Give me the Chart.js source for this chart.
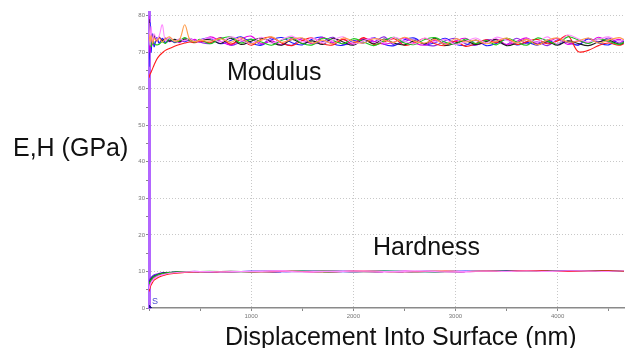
<!DOCTYPE html>
<html>
<head>
<meta charset="utf-8">
<script src="https://cdn.jsdelivr.net/npm/chart.js@4"></script>
<style>
  body { margin: 0; background: #fff; }
  #wrap { width: 629px; height: 348px; position: relative; }
</style>
</head>
<body>
<div id="wrap"><canvas id="chart"></canvas></div>
<script>
// displacement positions (nm) for modulus curves
const modX = [
  0, 10, 20, 35, 50, 75, 100, 130, 160, 200, 250, 300, 350, 400, 450, 500,
  600, 700, 800, 900, 1000, 1100, 1200, 1300, 1400, 1500,
  1600, 1700, 1800, 1900, 2000, 2100, 2200, 2300, 2400, 2500,
  2600, 2700, 2800, 2900, 3000, 3100, 3200, 3300, 3400, 3500,
  3600, 3700, 3800, 3900, 4000, 4100, 4200, 4300, 4400, 4500,
  4600, 4650
];

// modulus (GPa), one array per indent
const modRed = [
  63.0, 64.0, 64.5, 65.5, 66.5, 68.0, 69.0, 69.8, 70.5, 71.0, 71.6, 72.1, 72.5, 72.8, 72.6, 73.1,
  72.6, 73.9, 72.2, 73.4, 71.9, 73.6, 74.1, 72.5, 71.8, 73.2,
  73.9, 72.3, 72.0, 73.5, 72.4, 74.0, 72.1, 72.8, 73.7, 71.9,
  72.5, 73.8, 72.3, 71.8, 73.0, 71.6, 72.4, 73.4, 72.6, 73.6,
  72.1, 72.9, 73.5, 72.3, 73.1, 74.6, 70.2, 70.5, 71.8, 72.5,
  71.9, 72.3
];
const modBlue = [
  66.0, 78.0, 70.0, 75.0, 71.5, 74.0, 72.5, 73.8, 72.6, 73.2, 72.8, 73.6, 72.9, 73.3, 72.7, 73.4,
  73.8, 72.3, 73.2, 74.2, 72.5, 71.9, 73.4, 74.0, 72.6, 72.0,
  73.6, 74.1, 72.3, 71.9, 73.2, 72.5, 74.0, 72.2, 71.8, 73.4,
  73.9, 72.1, 72.6, 73.8, 72.2, 71.9, 73.3, 71.8, 72.4, 73.5,
  72.0, 72.7, 71.9, 73.3, 72.2, 73.0, 71.9, 73.6, 72.5, 72.0,
  73.4, 72.8
];
const modGreen = [
  72.0, 74.0, 71.5, 73.0, 72.3, 72.0, 72.2, 72.9, 72.4, 73.6, 72.8, 73.1, 74.0, 73.2, 72.8, 73.5,
  72.3, 73.7, 74.2, 72.5, 73.5, 72.8, 71.9, 73.3, 74.0, 72.4,
  72.0, 73.8, 73.2, 72.3, 73.7, 72.8, 71.8, 73.1, 74.1, 72.5,
  72.1, 73.5, 74.0, 72.7, 72.2, 73.6, 72.4, 73.2, 72.0, 73.8,
  72.8, 71.9, 73.9, 73.1, 72.3, 74.2, 73.4, 72.4, 73.6, 73.0,
  72.1, 72.8
];
const modMagenta = [
  80.0, 70.0, 76.0, 72.0, 74.5, 73.0, 74.2, 72.8, 73.9, 72.9, 73.4, 72.6, 73.7, 73.0, 73.5, 72.8,
  74.2, 73.0, 72.0, 73.6, 74.4, 72.3, 73.1, 72.0, 73.9, 73.3,
  72.4, 74.1, 72.7, 73.5, 72.1, 73.8, 73.0, 72.2, 72.8, 73.9,
  72.5, 71.9, 73.3, 72.3, 73.1, 73.8, 72.1, 72.8, 73.6, 72.1,
  73.0, 73.9, 72.3, 72.8, 73.8, 72.1, 73.1, 72.5, 74.1, 72.8,
  73.5, 72.6
];
const modBlack = [
  79.0, 74.0, 75.5, 73.8, 74.6, 73.2, 74.0, 73.1, 73.8, 73.0, 73.5, 72.9, 73.6, 73.3, 72.8, 73.4,
  73.4, 72.4, 73.8, 72.1, 73.0, 73.9, 72.7, 71.9, 73.5, 72.4,
  73.1, 72.1, 73.8, 72.8, 71.9, 73.4, 72.3, 73.6, 72.5, 72.0,
  73.1, 72.3, 73.8, 71.9, 72.5, 73.1, 72.1, 72.9, 73.4, 71.8,
  72.5, 73.5, 72.1, 72.9, 71.9, 73.1, 72.4, 71.8, 72.8, 73.3,
  72.2, 72.6
];
const modViolet = [
  68.0, 75.0, 71.0, 74.5, 72.0, 73.8, 72.4, 73.5, 72.7, 73.9, 72.6, 73.2, 72.9, 73.7, 73.1, 72.7,
  72.4, 74.0, 71.9, 72.8, 73.6, 72.1, 73.9, 72.6, 71.9, 73.8,
  72.3, 72.9, 74.1, 72.1, 72.6, 73.6, 72.8, 74.2, 72.0, 72.9,
  73.6, 72.1, 71.8, 73.1, 73.8, 72.3, 71.9, 73.4, 72.9, 72.1,
  73.8, 72.3, 72.9, 71.8, 73.4, 72.6, 72.0, 73.8, 72.8, 73.9,
  72.5, 73.1
];
const modPink = [
  78.0, 72.0, 77.0, 73.0, 75.0, 73.5, 74.5, 77.5, 73.2, 74.0, 73.0, 73.6, 73.1, 73.8, 72.9, 73.3,
  73.9, 72.8, 74.2, 73.3, 72.3, 74.1, 72.5, 73.5, 74.4, 72.8,
  73.9, 72.5, 73.3, 74.2, 72.3, 73.1, 73.9, 72.5, 74.1, 73.0,
  72.3, 73.9, 72.8, 73.5, 72.1, 72.9, 73.9, 72.5, 74.1, 73.3,
  72.5, 73.5, 72.8, 74.2, 72.3, 74.7, 73.7, 72.8, 73.5, 74.2,
  73.0, 73.6
];
const modOrange = [
  75.0, 73.0, 74.5, 72.5, 73.8, 73.0, 73.9, 72.8, 73.6, 74.2, 73.1, 73.5, 77.5, 73.4, 72.9, 73.3,
  73.0, 73.7, 72.7, 74.0, 72.3, 73.3, 74.2, 72.7, 73.5, 73.9,
  72.5, 73.3, 72.3, 73.9, 73.0, 72.5, 73.7, 73.3, 72.7, 74.1,
  73.0, 72.5, 73.5, 72.1, 73.7, 72.8, 73.3, 72.3, 73.0, 73.9,
  72.5, 73.5, 72.0, 73.3, 73.9, 72.8, 73.0, 73.9, 72.5, 73.3,
  74.0, 73.4
];

// displacement positions (nm) for hardness curves
const hardX = [
  0, 10, 20, 35, 50, 75, 100, 150, 200, 300, 400, 500,
  700, 900, 1100, 1300, 1500, 1700, 1900, 2100, 2300, 2500,
  2700, 2900, 3100, 3300, 3500, 3700, 3900, 4100, 4300, 4500,
  4650
];

// hardness (GPa)
const hardRed = [
  4.5, 5.5, 6.3, 7.0, 7.6, 8.1, 8.5, 9.0, 9.3, 9.6, 9.8, 9.9,
  9.9, 10.0, 9.9, 10.0, 10.0, 9.9, 10.0, 10.1, 10.0, 9.9,
  10.0, 10.1, 10.0, 10.1, 10.0, 10.2, 10.1, 10.0, 10.1, 10.2,
  10.1
];
const hardBlue = [
  7.0, 7.6, 8.0, 8.5, 8.8, 9.1, 9.3, 9.6, 9.7, 9.9, 9.9, 10.0,
  9.9, 10.0, 10.0, 9.9, 10.1, 10.0, 9.9, 10.0, 10.1, 10.0,
  9.9, 10.0, 10.1, 10.0, 10.1, 10.0, 10.1, 10.2, 10.1, 10.1,
  10.2
];
const hardMagenta = [
  6.0, 6.8, 7.3, 7.9, 8.3, 8.7, 9.0, 9.4, 9.6, 9.8, 9.9, 9.9,
  10.0, 9.9, 10.0, 10.1, 10.0, 9.9, 10.0, 10.0, 9.9, 10.1,
  10.0, 10.0, 9.9, 10.1, 10.0, 10.1, 10.0, 10.1, 10.2, 10.1,
  10.1
];
const hardViolet = [
  7.5, 8.0, 8.4, 8.8, 9.1, 9.3, 9.5, 9.7, 9.8, 9.9, 10.0, 10.0,
  9.9, 10.0, 10.1, 10.0, 9.9, 10.0, 10.1, 10.0, 10.0, 9.9,
  10.1, 10.0, 10.0, 10.1, 10.0, 10.0, 10.1, 10.1, 10.2, 10.1,
  10.2
];
const hardGreen = [
  6.5, 7.2, 7.7, 8.2, 8.6, 8.9, 9.2, 9.5, 9.7, 9.9, 9.9, 10.0,
  10.0, 9.9, 10.0, 10.0, 10.1, 9.9, 10.0, 10.0, 10.1, 10.0,
  9.9, 10.0, 10.0, 10.1, 10.0, 10.0, 10.1, 10.0, 10.1, 10.2,
  10.1
];
const hardBlack = [
  6.8, 7.4, 7.9, 8.4, 8.7, 9.0, 9.3, 9.6, 9.7, 9.9, 10.0, 9.9,
  10.0, 10.0, 9.9, 10.0, 10.0, 10.1, 10.0, 9.9, 10.0, 10.0,
  10.0, 9.9, 10.0, 10.0, 10.1, 10.0, 10.0, 10.1, 10.1, 10.1,
  10.1
];
const hardPink = [
  5.2, 6.2, 6.9, 7.5, 8.0, 8.5, 8.8, 9.2, 9.5, 9.8, 9.9, 10.0,
  9.9, 10.0, 10.0, 10.1, 9.9, 10.0, 10.0, 10.1, 10.0, 10.0,
  10.1, 9.9, 10.0, 10.1, 10.0, 10.1, 10.0, 10.2, 10.1, 10.0,
  10.2
];

// axis ticks (minor every 500 nm / 5 GPa, labelled every 1000 nm / 10 GPa)
const xTicks = [0, 500, 1000, 1500, 2000, 2500, 3000, 3500, 4000, 4500];
const yTicks = [0, 5, 10, 15, 20, 25, 30, 35, 40, 45, 50, 55, 60, 65, 70, 75, 80];
const xMax = 4650;
const yMax = 81;

const pts = (xs, ys) => xs.map((x, i) => ({ x: x, y: ys[i] }));

const line = (label, xs, ys, color) => ({
  label: label,
  data: pts(xs, ys),
  borderColor: color,
  backgroundColor: color,
  borderWidth: 1.1,
  pointRadius: 0,
  tension: 0.35,
  fill: false,
});

const datasets = [
  line("M orange", modX, modOrange, "#ff9c4a"),
  line("M pink", modX, modPink, "#ff8cff"),
  line("M green", modX, modGreen, "#19c719"),
  line("M black", modX, modBlack, "#202020"),
  line("M red", modX, modRed, "#ff1a1a"),
  line("M magenta", modX, modMagenta, "#e600e6"),
  line("M blue", modX, modBlue, "#1a1aff"),
  line("M violet", modX, modViolet, "#8a2be2"),
  line("H pink", hardX, hardPink, "#ff8cff"),
  line("H red", hardX, hardRed, "#ff1a1a"),
  line("H green", hardX, hardGreen, "#19c719"),
  line("H black", hardX, hardBlack, "#202020"),
  line("H magenta", hardX, hardMagenta, "#e600e6"),
  line("H blue", hardX, hardBlue, "#1a1aff"),
  line("H violet", hardX, hardViolet, "#8a2be2"),
  {
    label: "surface",
    data: [{ x: 0, y: 0 }],
    pointStyle: "rectRot",
    pointRadius: 3,
    backgroundColor: "#1a1a80",
    borderColor: "#1a1a80",
    showLine: false,
  },
];

// captions and axis titles drawn as text on the canvas
const textPlugin = {
  id: "texts",
  afterDatasetsDraw(chart) {
    const c = chart.ctx;
    c.save();
    c.fillStyle = "#111";
    c.font = "25px 'Liberation Sans', Arial, sans-serif";
    c.textBaseline = "alphabetic";
    c.textAlign = "left";
    c.fillText("E,H (GPa)", 13, 156);
    c.fillText("Modulus", 227, 80);
    c.fillText("Hardness", 373, 255);
    c.fillText("Displacement Into Surface (nm)", 225, 345);
    // surface marker label
    const sx = chart.scales.x.getPixelForValue(0);
    const sy = chart.scales.y.getPixelForValue(0);
    c.fillStyle = "#4a4ad0";
    c.font = "9px 'Liberation Sans', Arial, sans-serif";
    c.fillText("S", sx + 3, sy - 4);
    c.restore();
  },
};

const isMajor = (v, step) => Math.abs(Math.round(v) % step) === 0 && Math.round(v) > 0;

new Chart(document.getElementById("chart"), {
  type: "line",
  data: { datasets: datasets },
  plugins: [textPlugin],
  options: {
    responsive: true,
    maintainAspectRatio: false,
    animation: false,
    layout: { padding: { top: 12, right: 0, left: 0, bottom: 0 } },
    plugins: {
      legend: { display: false },
      tooltip: { enabled: false },
    },
    scales: {
      x: {
        type: "linear",
        min: 0,
        max: xMax,
        afterFit: (s) => { s.height = 40; },
        afterBuildTicks: (s) => { s.ticks = xTicks.map((v) => ({ value: v })); },
        ticks: {
          autoSkip: false,
          maxRotation: 0,
          padding: 2,
          color: "#777",
          font: { size: 6, family: "'Liberation Sans', Arial" },
          callback: (v) => (isMajor(v, 1000) ? String(Math.round(v)) : ""),
        },
        grid: {
          color: (ctx) => (ctx.tick && isMajor(ctx.tick.value, 1000) ? "#c8c8c8" : "rgba(0,0,0,0)"),
          tickColor: "#888",
          tickLength: 3,
          lineWidth: 1,
        },
        border: { color: "#8a8a8a", width: 1.5, dash: [1, 2] },
      },
      y: {
        min: 0,
        max: yMax,
        afterFit: (s) => { s.width = 149; },
        afterBuildTicks: (s) => { s.ticks = yTicks.map((v) => ({ value: v })); },
        ticks: {
          autoSkip: false,
          padding: 1,
          color: "#777",
          font: { size: 6, family: "'Liberation Sans', Arial" },
          callback: (v) => (Math.round(v) % 10 === 0 ? String(Math.round(v)) : ""),
        },
        grid: {
          color: (ctx) => (ctx.tick && isMajor(ctx.tick.value, 10) ? "#c8c8c8" : "rgba(0,0,0,0)"),
          tickColor: "#888",
          tickLength: 3,
          lineWidth: 1,
        },
        border: { color: "#b266ff", width: 3, dash: [1, 2] },
      },
    },
  },
});
</script>
</body>
</html>
